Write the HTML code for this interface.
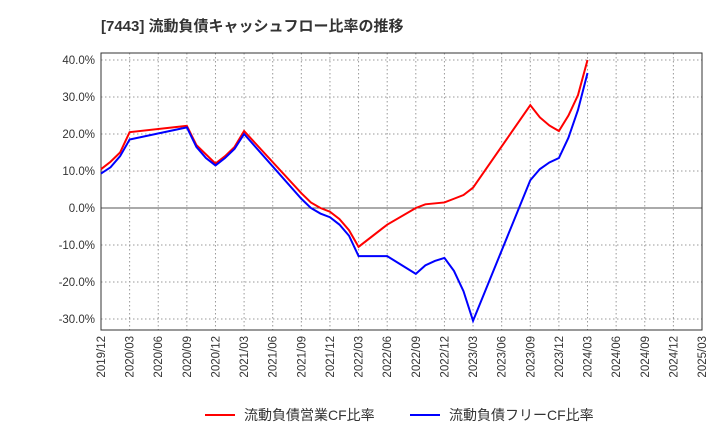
<!DOCTYPE html>
<html><head><meta charset="utf-8"><style>
body{margin:0;background:#fff;font-family:"Liberation Sans","Noto Sans CJK JP",sans-serif}
</style></head><body>
<svg id="c" width="720" height="440" xmlns="http://www.w3.org/2000/svg">
<text x="101" y="31" font-size="15" font-weight="bold" fill="#333" font-family="Liberation Sans,Noto Sans CJK JP,sans-serif">[7443]  流動負債キャッシュフロー比率の推移</text>
<g id="grid"></g><g id="axes"></g><g id="series"></g>
<g font-size="14" fill="#333">
<line x1="205" y1="415" x2="235" y2="415" stroke="#f00" stroke-width="2"/>
<text x="244" y="420">流動負債営業CF比率</text>
<line x1="410" y1="415" x2="440" y2="415" stroke="#00f" stroke-width="2"/>
<text x="449" y="420">流動負債フリーCF比率</text>
</g>
</svg>
<script>
const xLabels=["2019/12","2020/03","2020/06","2020/09","2020/12","2021/03","2021/06","2021/09","2021/12","2022/03","2022/06","2022/09","2022/12","2023/03","2023/06","2023/09","2023/12","2024/03","2024/06","2024/09","2024/12","2025/03"];
const yTicks=[40,30,20,10,0,-10,-20,-30];
const redMonths=[0,1,2,3,9,10,12,13,14,15,21,22,23,24,25,26,27,30,33,34,36,37,38,39,45,46,47,48,49,50,51];
const redVals=[10.5,12.5,15,20.5,22.2,17,12,14,16.5,20.8,4,1.5,0,-1,-3,-6,-10.5,-4.5,0,1,1.5,2.5,3.5,5.5,27.8,24.5,22.3,20.8,25,30.5,40];
const blueMonths=[0,1,2,3,9,10,11,12,13,14,15,21,22,23,24,25,26,27,30,33,34,35,36,37,38,39,45,46,47,48,49,50,51];
const blueVals=[9.3,11,14,18.5,21.8,16.5,13.5,11.5,13.5,16,20,2.5,0,-1.5,-2.5,-4.5,-7.5,-13,-13,-17.8,-15.5,-14.3,-13.5,-17,-22.5,-30.5,7.5,10.5,12.3,13.5,19,26.5,36.5];
const L=101,R=702,T=53,B=330;
const X=m=>L+(R-L)*m/63;
const Y=v=>208-v*3.7;
const NS="http://www.w3.org/2000/svg";
function mk(t,a,p){const e=document.createElementNS(NS,t);for(const k in a)e.setAttribute(k,a[k]);p.appendChild(e);return e;}
const g=document.getElementById('grid'),ax=document.getElementById('axes'),s=document.getElementById('series');
for(let m=0;m<=63;m+=3){const l=mk('line',{x1:X(m),x2:X(m),y1:T,y2:B,stroke:'#999','stroke-dasharray':'1.5,2.5'},g);

}
yTicks.forEach(v=>{const l=mk('line',{x1:L,x2:R,y1:Y(v),y2:Y(v),stroke:v===0?'#555':'#999','stroke-dasharray':v===0?'':'1.5,2.5'},g);


const t=mk('text',{x:L-6,y:Y(v)+4,'text-anchor':'end','font-size':'11.5',fill:'#333'},ax);t.textContent=v.toFixed(1)+'%';

});
xLabels.forEach((lab,i)=>{const x=X(i*3);const t=mk('text',{transform:`translate(${x+4},${B+6}) rotate(-90)`,'text-anchor':'end','font-size':'11.5',fill:'#333'},ax);t.textContent=lab;

});
const fr=mk('rect',{x:L,y:T,width:R-L,height:B-T,fill:'none',stroke:'#333'},ax);


function line(ms,vs,c,n){const p=mk('polyline',{points:ms.map((m,i)=>X(m)+','+Y(vs[i])).join(' '),fill:'none',stroke:c,'stroke-width':2},s);

}
line(redMonths,redVals,'#f00','operating-cf-ratio-line');
line(blueMonths,blueVals,'#00f','free-cf-ratio-line');
</script>
</body></html>
